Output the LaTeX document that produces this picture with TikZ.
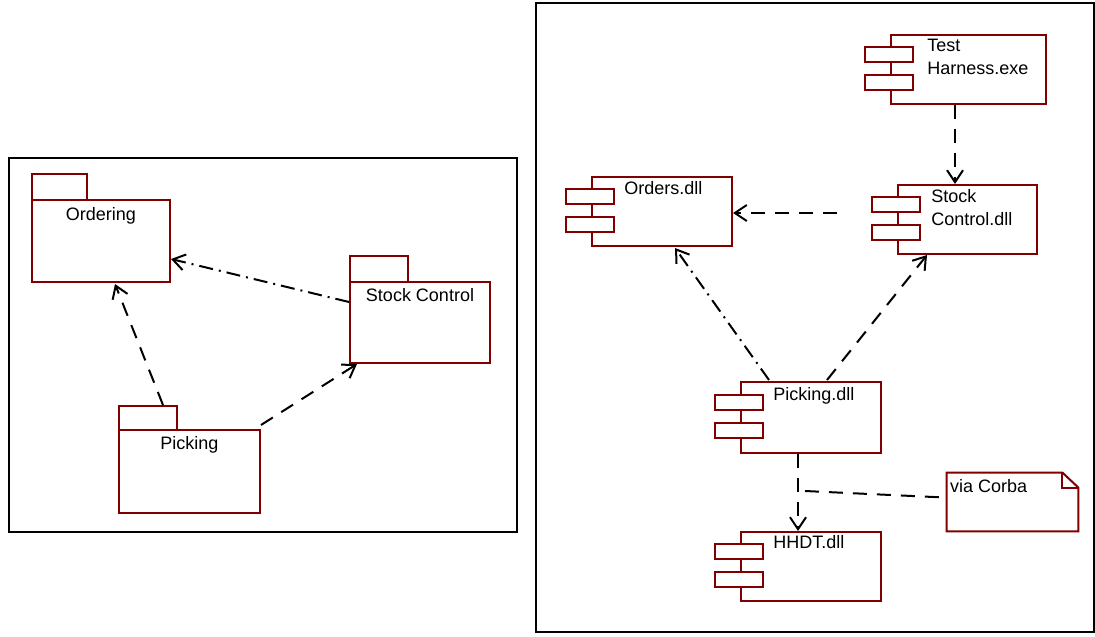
\documentclass[tikz,border=0pt]{standalone}
\usepackage{fontspec}
\setmainfont{Liberation Sans}
\usetikzlibrary{arrows.meta,calc,fit}
\definecolor{umlred}{RGB}{128,0,0}

\begin{document}
\begin{tikzpicture}[x=0.5pt, y=-0.5pt, >={Straight Barb[length=6pt,width=8pt]},
    font=\fontsize{9}{11.5}\selectfont,
    box/.style={draw=umlred, line width=1pt, inner sep=0pt},
    port/.style={box, fill=white, minimum width=24pt, minimum height=7.5pt},
    lbl/.style={anchor=north west, inner sep=0pt, align=left},
    dep/.style={->, line width=1pt, dash pattern=on 7pt off 5pt},
    depdot/.style={->, line width=1pt, dash pattern=on 7pt off 3pt on 1pt off 3pt},
    frame/.style={draw=black, line width=1pt, inner sep=0pt}]
  \useasboundingbox (0,0) rectangle (1095,636);

  % package view
  \node[frame, fit={(9,158) (517,532)}] (pkgview) {};

  \node[box, fit={(32,174) (87,200)}] (ordering-tab) {};
  \node[box, fit={(32,200) (170,282)}] (ordering) {};
  \node[anchor=north, inner sep=0pt] (ordering-lbl) at ($(ordering.north)+(0,8)$) {Ordering};

  \node[box, fit={(350,256) (408,282)}] (stockctl-tab) {};
  \node[box, fit={(350,282) (490,363)}] (stockctl) {};
  \node[anchor=north, inner sep=0pt] (stockctl-lbl) at ($(stockctl.north)+(0,7)$) {Stock Control};

  \node[box, fit={(119,406) (177,430)}] (picking-tab) {};
  \node[box, fit={(119,430) (260,513)}] (picking) {};
  \node[anchor=north, inner sep=0pt] (picking-lbl) at ($(picking.north)+(0,7)$) {Picking};

  \draw[depdot] ($(stockctl.north west)+(0,21)$) -- ($(ordering.north east)+(0,60)$);
  \draw[dep] ($(picking-tab.north west)+(45,0)$) -- ($(ordering.south west)+(84,1)$);
  \draw[dep] ($(picking.north east)+(0,-4)$) -- ($(stockctl.south west)+(8,0)$);

  % component view
  \node[frame, fit={(536,3) (1094,632)}] (compview) {};

  \node[box, fit={(891,35) (1046,104)}] (harness) {};
  \node[port] (harness-a) at ($(harness.north west)+(-1,20.5)$) {};
  \node[port] (harness-b) at ($(harness.north west)+(-1,48.5)$) {};
  \node[lbl] (harness-lbl) at ($(harness.north west)+(37,5)$) {Test\\Harness.exe};

  \node[box, fit={(898,185) (1037,254)}] (stockdll) {};
  \node[port] (stockdll-a) at ($(stockdll.north west)+(-1,20.5)$) {};
  \node[port] (stockdll-b) at ($(stockdll.north west)+(-1,48.5)$) {};
  \node[lbl] (stockdll-lbl) at ($(stockdll.north west)+(34,5)$) {Stock\\Control.dll};

  \node[box, fit={(592,177) (732,246)}] (orders) {};
  \node[port] (orders-a) at ($(orders.north west)+(-1,20.5)$) {};
  \node[port] (orders-b) at ($(orders.north west)+(-1,48.5)$) {};
  \node[lbl] (orders-lbl) at ($(orders.north west)+(33,5)$) {Orders.dll};

  \node[box, fit={(741,382) (881,453)}] (pickingdll) {};
  \node[port] (pickingdll-a) at ($(pickingdll.north west)+(-1,21)$) {};
  \node[port] (pickingdll-b) at ($(pickingdll.north west)+(-1,49)$) {};
  \node[lbl] (pickingdll-lbl) at ($(pickingdll.north west)+(33,6)$) {Picking.dll};

  \node[box, fit={(741,532) (881,601)}] (hhdt) {};
  \node[port] (hhdt-a) at ($(hhdt.north west)+(-1,20)$) {};
  \node[port] (hhdt-b) at ($(hhdt.north west)+(-1,48)$) {};
  \node[lbl] (hhdt-lbl) at ($(hhdt.north west)+(33,4)$) {HHDT.dll};

  \node[inner sep=0pt, fit={(947,473) (1078,531)}] (note) {};
  \draw[box] (note.north west) -- ($(note.north east)+(-16,0)$) -- ($(note.north east)+(0,15)$)
    -- (note.south east) -- (note.south west) -- cycle;
  \draw[box] ($(note.north east)+(-16,0)$) |- ($(note.north east)+(0,15)$);
  \node[lbl] (note-lbl) at ($(note.north west)+(3,6)$) {via Corba};

  \coordinate (stock-out) at (837,213);
  \coordinate (via) at (805,491);

  \draw[dep] ($(harness.south west)+(65,0)$) -- ($(stockdll.north west)+(58,0)$);
  \draw[dep] (stock-out) -- (orders.east |- stock-out);
  \draw[depdot] ($(pickingdll.north west)+(29,-1)$) -- ($(orders.south west)+(84,1)$);
  \draw[dep] ($(pickingdll.north west)+(87,-1)$) -- ($(stockdll.south west)+(30,0)$);
  \draw[dep] ($(pickingdll.south west)+(58,0)$) -- ($(hhdt.north west)+(58,0)$);
  \draw[line width=1pt, dash pattern=on 7pt off 5pt] (via) -- ($(note.north west)+(0,25)$);
\end{tikzpicture}
\end{document}
